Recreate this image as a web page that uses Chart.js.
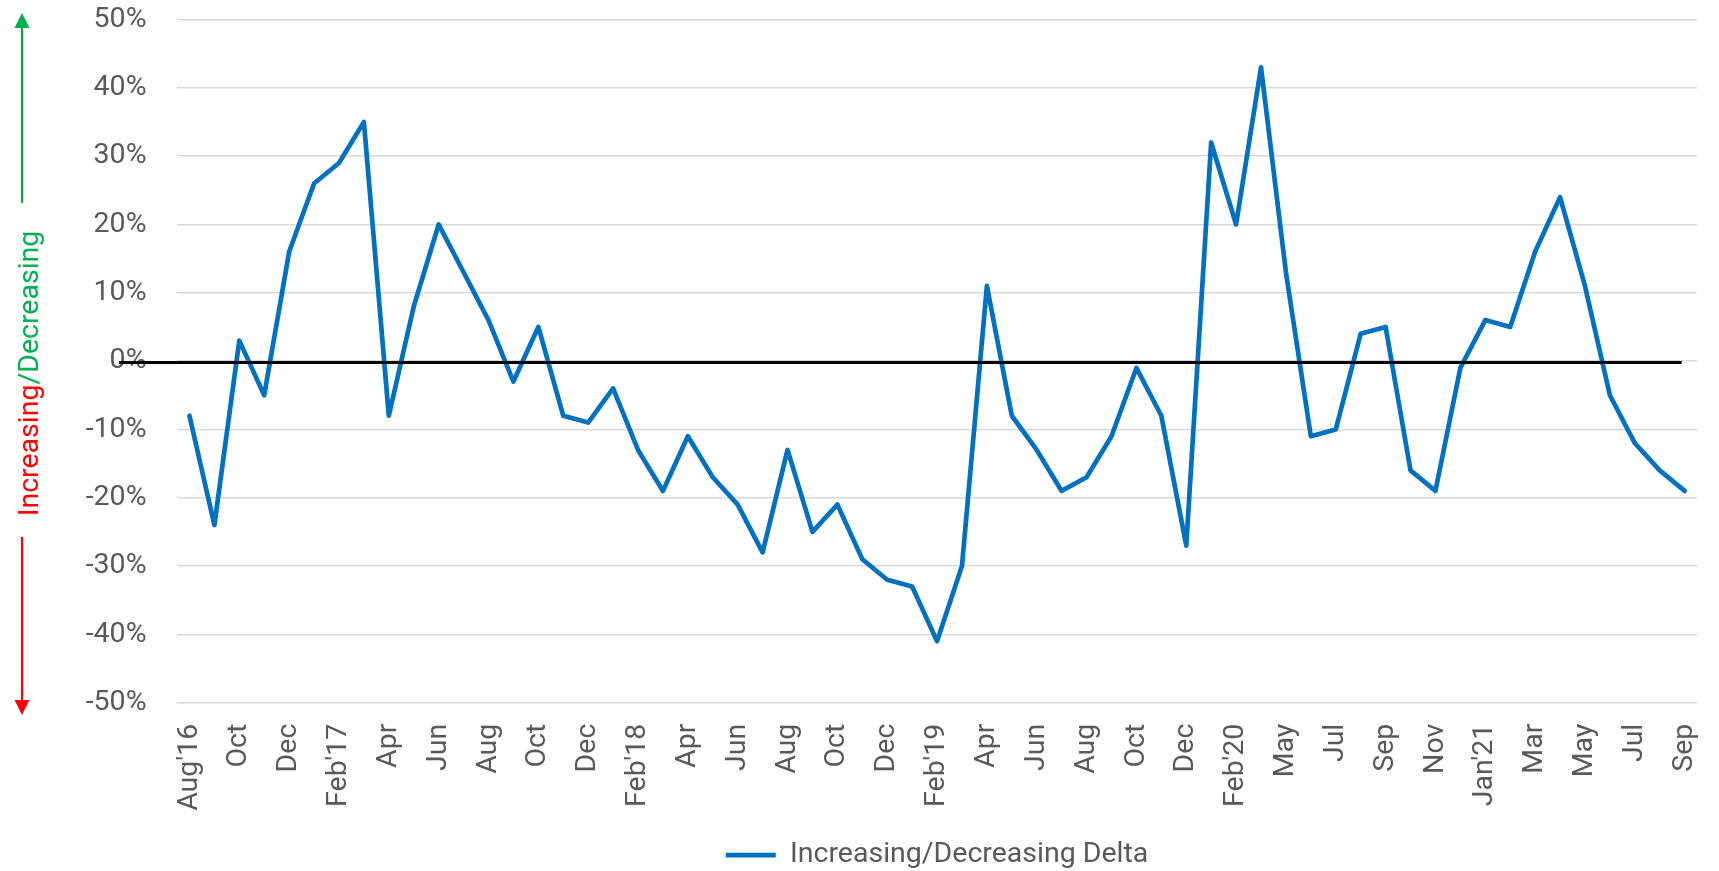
<!DOCTYPE html>
<html>
<head>
<meta charset="utf-8">
<script src="https://cdn.jsdelivr.net/npm/chart.js@4.4.0/dist/chart.umd.min.js"></script>
<style>
  body { margin: 0; background: #ffffff; }
  #wrap { width: 1719px; height: 871px; }
</style>
</head>
<body>
<div id="wrap"><canvas id="deltaChart" width="1719" height="871"></canvas></div>
<script>
// categories (one month missing in 2020)
const months = [
    "Aug'16", 'Sep', 'Oct', 'Nov', 'Dec',
    'Jan', "Feb'17", 'Mar', 'Apr', 'May', 'Jun', 'Jul', 'Aug', 'Sep', 'Oct', 'Nov', 'Dec',
    'Jan', "Feb'18", 'Mar', 'Apr', 'May', 'Jun', 'Jul', 'Aug', 'Sep', 'Oct', 'Nov', 'Dec',
    'Jan', "Feb'19", 'Mar', 'Apr', 'May', 'Jun', 'Jul', 'Aug', 'Sep', 'Oct', 'Nov', 'Dec',
    'Jan', "Feb'20", 'Mar', 'May', 'Jun', 'Jul', 'Aug', 'Sep', 'Oct', 'Nov', 'Dec',
    "Jan'21", 'Feb', 'Mar', 'Apr', 'May', 'Jun', 'Jul', 'Aug', 'Sep'
];

// Increasing/Decreasing Delta, in %
const deltaValues = [
    -8, -24, 3, -5, 16,
    26, 29, 35, -8, 8, 20, 13, 6, -3, 5, -8, -9,
    -4, -13, -19, -11, -17, -21, -28, -13, -25, -21, -29, -32,
    -33, -41, -30, 11, -8, -13, -19, -17, -11, -1, -8, -27,
    32, 20, 43, 13, -11, -10, 4, 5, -16, -19, -1,
    6, 5, 16, 24, 11, -5, -12, -16, -19
];

// y axis ticks, in %
const percentTicks = [-50, -40, -30, -20, -10, 0, 10, 20, 30, 40, 50];

const FONT = 'Roboto, "Open Sans", sans-serif';
const FONT_SIZE = 28.5;
const GREY_TEXT = '#595959';
const NONE = 'rgba(0,0,0,0)';

// black zero line, drawn over the series
const zeroLine = {
    id: 'zeroLine',
    afterDatasetsDraw(chart) {
        const ctx = chart.ctx;
        const y = chart.scales.y.getPixelForValue(0) + 1.5;
        const pts = chart.getDatasetMeta(0).data;
        const xEnd = pts[pts.length - 1].x - 3;
        ctx.save();
        ctx.strokeStyle = '#000000';
        ctx.lineWidth = 3;
        ctx.beginPath();
        ctx.moveTo(chart.chartArea.left - 58, y);
        ctx.lineTo(xEnd, y);
        ctx.stroke();
        ctx.restore();
    }
};

// two colour axis title with arrows
const axisTitle = {
    id: 'axisTitle',
    afterDraw(chart) {
        const ctx = chart.ctx;
        const ax = 22;
        ctx.save();

        // green arrow up
        ctx.strokeStyle = '#00B050';
        ctx.fillStyle = '#00B050';
        ctx.lineWidth = 2.2;
        ctx.beginPath();
        ctx.moveTo(ax, 203);
        ctx.lineTo(ax, 26);
        ctx.stroke();
        ctx.beginPath();
        ctx.moveTo(ax, 13);
        ctx.lineTo(ax - 7.5, 28);
        ctx.lineTo(ax + 7.5, 28);
        ctx.closePath();
        ctx.fill();

        // red arrow down
        ctx.strokeStyle = '#FF0000';
        ctx.fillStyle = '#FF0000';
        ctx.beginPath();
        ctx.moveTo(ax, 537);
        ctx.lineTo(ax, 702);
        ctx.stroke();
        ctx.beginPath();
        ctx.moveTo(ax, 715);
        ctx.lineTo(ax - 7.5, 700);
        ctx.lineTo(ax + 7.5, 700);
        ctx.closePath();
        ctx.fill();

        // text
        ctx.font = FONT_SIZE + 'px ' + FONT;
        ctx.textBaseline = 'alphabetic';
        ctx.textAlign = 'left';
        const partA = 'Increasing';
        const partB = '/Decreasing';
        const wA = ctx.measureText(partA).width;
        const wB = ctx.measureText(partB).width;
        ctx.translate(37.5, 373.5);
        ctx.rotate(-Math.PI / 2);
        const start = -(wA + wB) / 2;
        ctx.fillStyle = '#FF0000';
        ctx.fillText(partA, start, 0);
        ctx.fillStyle = '#00B050';
        ctx.fillText(partB, start + wA, 0);
        ctx.restore();
    }
};

new Chart(document.getElementById('deltaChart'), {
    type: 'line',
    data: {
        labels: months,
        datasets: [{
            label: 'Increasing/Decreasing Delta',
            data: deltaValues,
            borderColor: '#0070C0',
            backgroundColor: '#0070C0',
            borderWidth: 4.7,
            borderJoinStyle: 'round',
            borderCapStyle: 'round',
            pointRadius: 0,
            tension: 0,
            fill: false
        }]
    },
    options: {
        responsive: false,
        animation: false,
        layout: {
            padding: { top: 19.5, right: 19.5, bottom: -8.3, left: 0 }
        },
        plugins: {
            legend: {
                position: 'bottom',
                fullSize: false,
                labels: {
                    usePointStyle: true,
                    pointStyle: 'line',
                    pointStyleWidth: 50,
                    padding: 2,
                    color: GREY_TEXT,
                    font: { family: FONT, size: FONT_SIZE }
                }
            },
            tooltip: { enabled: false }
        },
        scales: {
            x: {
                offset: true,
                grid: { color: NONE, tickColor: NONE, drawTicks: true, tickLength: 21 },
                border: { display: false },
                ticks: {
                    autoSkip: false,
                    minRotation: 90,
                    maxRotation: 90,
                    padding: 0,
                    color: GREY_TEXT,
                    font: { family: FONT, size: FONT_SIZE },
                    callback: function (value, index) {
                        return index % 2 === 0 ? this.getLabelForValue(value) : null;
                    }
                },
                afterFit: scale => { scale.height = 136.1; }
            },
            y: {
                min: -50,
                max: 50,
                afterBuildTicks: scale => {
                    scale.ticks = percentTicks.map(v => ({ value: v }));
                },
                grid: { color: '#D9D9D9', lineWidth: 1.5, drawTicks: true, tickLength: 30.5, tickColor: NONE },
                border: { display: false },
                ticks: {
                    padding: 0,
                    color: GREY_TEXT,
                    font: { family: FONT, size: FONT_SIZE },
                    callback: v => v + '%'
                },
                afterFit: scale => { scale.width = 177; }
            }
        }
    },
    plugins: [zeroLine, axisTitle]
});
</script>
</body>
</html>
